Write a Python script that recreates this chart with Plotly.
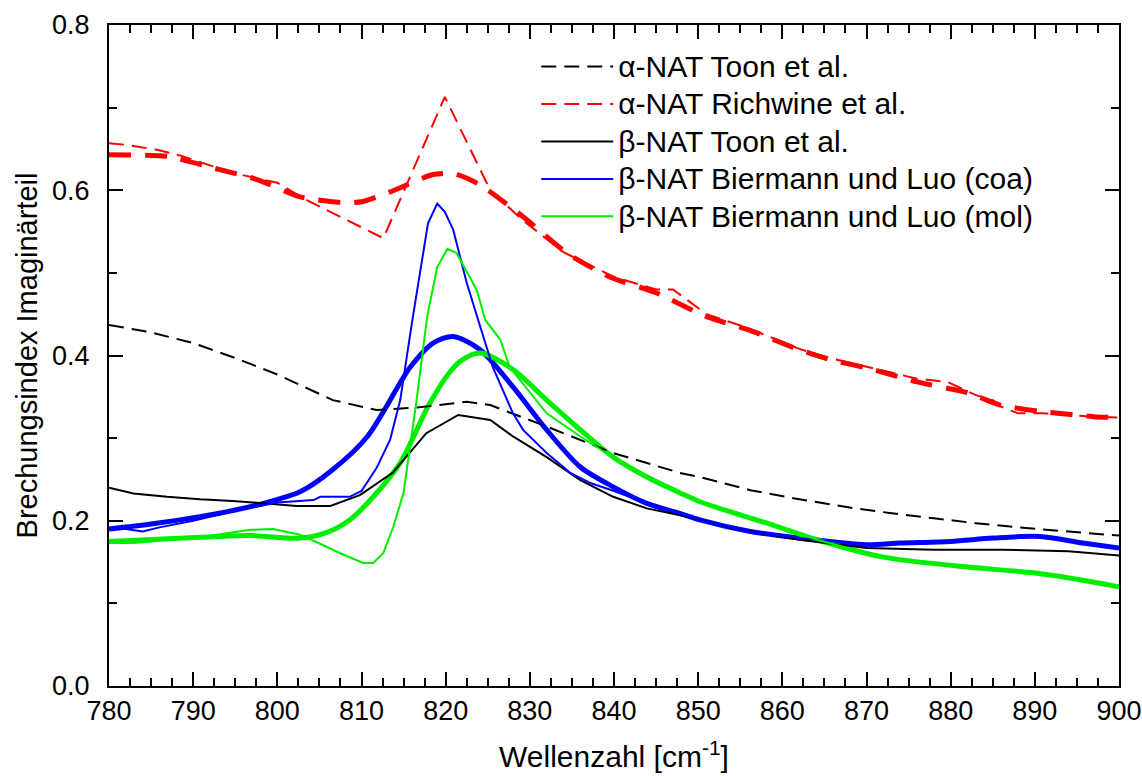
import plotly.graph_objects as go

# α-NAT Richwine et al. (thin and thick dashed red)
rich_thin_x = [780, 782, 785.7, 788.8, 794.7, 800, 803.5, 806.6, 809.8, 812.6, 819.9, 825.3, 829, 834, 840, 845, 847, 851, 856, 862, 866, 871, 876, 879.6, 883, 885, 886, 888, 891, 897, 900]
rich_thin_y = [0.657, 0.655, 0.649, 0.641, 0.621, 0.609, 0.588, 0.572, 0.556, 0.542, 0.713, 0.600, 0.565, 0.525, 0.495, 0.480, 0.480, 0.450, 0.433, 0.408, 0.396, 0.384, 0.372, 0.368, 0.352, 0.346, 0.338, 0.330, 0.330, 0.326, 0.325]
rich_thick_x = [780, 787, 792, 797.6, 802.7, 807.8, 810, 813.4, 818.5, 821, 824, 829.2, 834.4, 839.5, 845, 851, 856, 862, 865.7, 870.8, 876, 882, 885.9, 891, 897, 900]
rich_thick_y = [0.643, 0.641, 0.628, 0.613, 0.592, 0.585, 0.586, 0.598, 0.619, 0.620, 0.607, 0.568, 0.524, 0.495, 0.476, 0.447, 0.431, 0.407, 0.395, 0.383, 0.368, 0.355, 0.340, 0.332, 0.326, 0.325]

# α-NAT Toon et al. (dashed black)
toon_a_x = [780, 785, 790, 795, 800, 806.6, 811.8, 816.6, 822.5, 825.3, 832, 839.9, 847.8, 850.2, 856.2, 862, 868, 873, 878, 883, 888, 894, 900]
toon_a_y = [0.437, 0.428, 0.415, 0.397, 0.377, 0.346, 0.334, 0.337, 0.344, 0.340, 0.314, 0.282, 0.258, 0.253, 0.237, 0.226, 0.216, 0.209, 0.203, 0.197, 0.192, 0.187, 0.182]

# β-NAT Toon et al. (solid black)
toon_b_x = [780, 782.9, 786.9, 790.8, 794.7, 798.7, 802.3, 806.3, 809.8, 813.7, 817.7, 821.5, 825.3, 828, 832, 836, 839.9, 843.9, 850, 854.1, 862, 870, 878, 886, 894, 900]
toon_b_y = [0.240, 0.233, 0.229, 0.226, 0.224, 0.221, 0.218, 0.218, 0.231, 0.258, 0.306, 0.328, 0.322, 0.302, 0.277, 0.249, 0.229, 0.215, 0.202, 0.191, 0.177, 0.167, 0.165, 0.165, 0.163, 0.158]

# β-NAT Biermann und Luo (coa): thin and thick blue
coa_thin_x = [780, 782, 784, 786, 790, 795, 800, 804.3, 805.1, 808.6, 810, 811.8, 813.4, 814.6, 816, 817.9, 819, 819.9, 820.9, 822.5, 824.1, 825.6, 828, 829.2, 832, 834.8, 837.1, 840, 843.9, 847.8, 850.2, 856, 862, 870, 878, 885, 890.6, 895.7, 900]
coa_thin_y = [0.190, 0.190, 0.187, 0.192, 0.200, 0.212, 0.222, 0.225, 0.229, 0.229, 0.236, 0.264, 0.298, 0.346, 0.440, 0.560, 0.584, 0.574, 0.552, 0.488, 0.435, 0.386, 0.330, 0.310, 0.282, 0.258, 0.246, 0.236, 0.221, 0.209, 0.201, 0.187, 0.179, 0.171, 0.174, 0.179, 0.181, 0.173, 0.167]
coa_thick_x = [780, 785, 790.8, 795, 798.7, 802.7, 806.6, 810.7, 814.6, 815.8, 818.5, 820.9, 824.1, 828, 832, 836, 839.9, 843.9, 847.8, 850.2, 856.2, 862.1, 870, 874, 880, 885, 890.6, 895.7, 900]
coa_thick_y = [0.190, 0.196, 0.205, 0.213, 0.222, 0.235, 0.262, 0.302, 0.367, 0.386, 0.415, 0.423, 0.407, 0.362, 0.310, 0.265, 0.241, 0.221, 0.209, 0.201, 0.187, 0.179, 0.171, 0.173, 0.175, 0.179, 0.181, 0.173, 0.167]

# β-NAT Biermann und Luo (mol): thin and thick green
mol_thin_x = [780, 782.9, 790.8, 796.8, 799.5, 802.7, 804.7, 807.4, 810.2, 811.4, 812.6, 813.8, 815, 815.8, 816.6, 817.8, 819, 820.2, 821.3, 823.7, 824.7, 826.5, 827.6, 832, 836, 840.7, 843.9, 847.8, 850.2, 858.2, 864.1, 872, 882, 889.8, 895.7, 900]
mol_thin_y = [0.173, 0.173, 0.180, 0.189, 0.190, 0.183, 0.174, 0.161, 0.149, 0.149, 0.161, 0.193, 0.234, 0.290, 0.350, 0.447, 0.507, 0.529, 0.524, 0.479, 0.443, 0.419, 0.386, 0.330, 0.302, 0.271, 0.253, 0.234, 0.223, 0.197, 0.177, 0.156, 0.144, 0.137, 0.128, 0.120]
mol_thick_x = [780, 790.8, 796.8, 802.7, 805.9, 808.6, 811.4, 814.6, 818, 820.5, 822, 824.1, 828, 832, 836, 839.9, 843.9, 847.8, 850.2, 858.2, 864.1, 872, 882, 889.8, 895.7, 900]
mol_thick_y = [0.175, 0.180, 0.182, 0.179, 0.186, 0.201, 0.229, 0.270, 0.340, 0.380, 0.395, 0.403, 0.383, 0.346, 0.310, 0.277, 0.253, 0.234, 0.223, 0.197, 0.177, 0.156, 0.144, 0.137, 0.128, 0.120]

RED, BLUE, GREEN, BLACK = "#ff0000", "#0000ff", "#00ee00", "#000000"
FONT = "Arial, Liberation Sans, sans-serif"


def legend_label(text):
    return '<span style="font-size:30px">' + text + '</span>'


fig = go.Figure()

# thick (unlabelled) curves
fig.add_trace(go.Scatter(x=rich_thick_x, y=rich_thick_y, mode="lines", showlegend=False,
                         line=dict(color=RED, width=5, dash="22px,14px", shape="spline", smoothing=0.6)))
fig.add_trace(go.Scatter(x=coa_thick_x, y=coa_thick_y, mode="lines", showlegend=False,
                         line=dict(color=BLUE, width=5, shape="spline", smoothing=0.8)))
fig.add_trace(go.Scatter(x=mol_thick_x, y=mol_thick_y, mode="lines", showlegend=False,
                         line=dict(color=GREEN, width=5, shape="spline", smoothing=0.8)))

# labelled curves
fig.add_trace(go.Scatter(x=toon_a_x, y=toon_a_y, mode="lines", name=legend_label("α-NAT Toon et al."),
                         line=dict(color=BLACK, width=2, dash="15px,8px")))
fig.add_trace(go.Scatter(x=rich_thin_x, y=rich_thin_y, mode="lines", name=legend_label("α-NAT Richwine et al."),
                         line=dict(color=RED, width=2, dash="15px,8px")))
fig.add_trace(go.Scatter(x=toon_b_x, y=toon_b_y, mode="lines", name=legend_label("β-NAT Toon et al."),
                         line=dict(color=BLACK, width=2)))
fig.add_trace(go.Scatter(x=coa_thin_x, y=coa_thin_y, mode="lines", name=legend_label("β-NAT Biermann und Luo (coa)"),
                         line=dict(color=BLUE, width=2)))
fig.add_trace(go.Scatter(x=mol_thin_x, y=mol_thin_y, mode="lines", name=legend_label("β-NAT Biermann und Luo (mol)"),
                         line=dict(color=GREEN, width=2)))

axis_common = dict(showline=True, linecolor="black", linewidth=2, mirror="allticks",
                   ticks="inside", tickcolor="black", tickwidth=2, ticklen=14,
                   showgrid=False, zeroline=False, automargin=False,
                   tickfont=dict(family=FONT, size=27, color="black"))

fig.update_xaxes(range=[780, 900], dtick=10, tick0=780,
                 minor=dict(dtick=2.5, ticks="inside", ticklen=8, tickcolor="black", tickwidth=2, showgrid=False),
                 title=dict(text="Wellenzahl [cm<sup>-1</sup>]", font=dict(family=FONT, size=30, color="black"), standoff=21),
                 **axis_common)
fig.update_yaxes(range=[0, 0.8], dtick=0.2, tick0=0, tickformat=".1f", ticklabelstandoff=12,
                 minor=dict(dtick=0.1, ticks="inside", ticklen=8, tickcolor="black", tickwidth=2, showgrid=False),
                 title=dict(text="Brechungsindex Imaginärteil", font=dict(family=FONT, size=29, color="black"), standoff=6),
                 **axis_common)

fig.update_layout(
    width=1142, height=776,
    margin=dict(l=109, r=23, t=25, b=90),
    paper_bgcolor="white", plot_bgcolor="white",
    font=dict(family=FONT, color="black"),
    legend=dict(x=0.423, y=0.973, xanchor="left", yanchor="top",
                bgcolor="rgba(0,0,0,0)", borderwidth=0,
                font=dict(family=FONT, size=26.5, color="black"),
                itemwidth=72, tracegroupgap=0),
)

fig.write_html("out.html")
